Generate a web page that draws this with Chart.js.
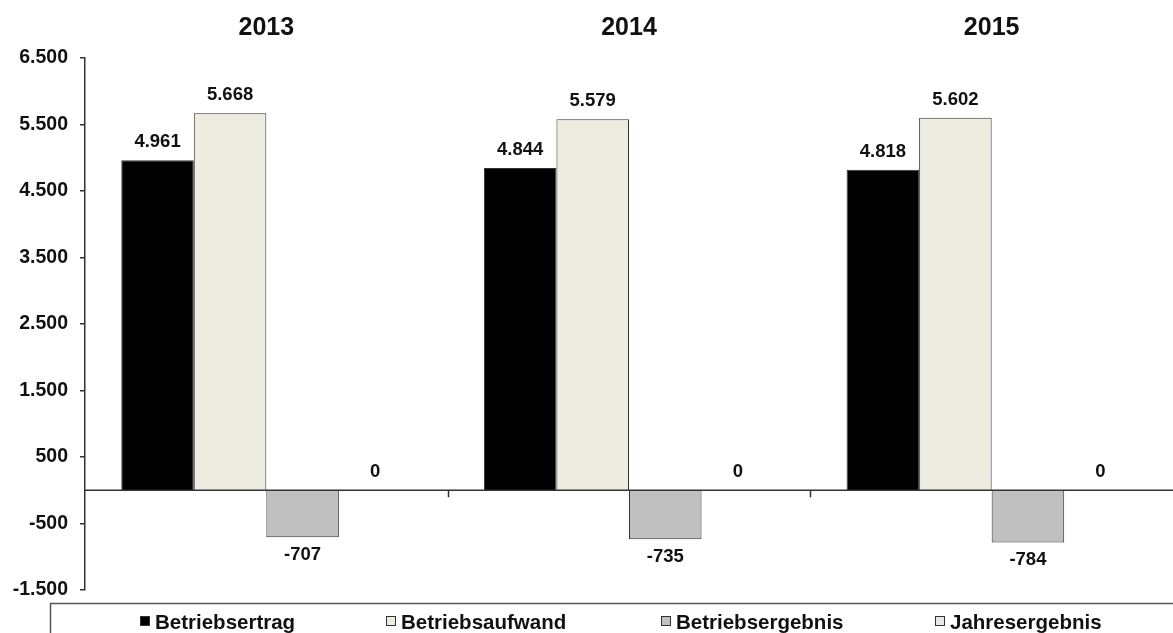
<!DOCTYPE html>
<html lang="de">
<head>
<meta charset="utf-8">
<title>Betriebsergebnis 2013–2015</title>
<script src="https://cdn.jsdelivr.net/npm/chart.js@4.4.1/dist/chart.umd.min.js"></script>
<style>
    html, body { margin: 0; padding: 0; background: #ffffff; }
    #wrap { width: 1173px; height: 633px; position: relative; }
</style>
</head>
<body>
<div id="wrap"><canvas id="chart" width="1173" height="633"></canvas></div>
<script>
// Données (en milliers)
const years = ['2013', '2014', '2015'];
const seriesLabels = ['Betriebsertrag', 'Betriebsaufwand', 'Betriebsergebnis', 'Jahresergebnis'];
const betriebsertrag = [4961, 4844, 4818];
const betriebsaufwand = [5668, 5579, 5602];
const betriebsergebnis = [-707, -735, -784];
const jahresergebnis = [0, 0, 0];
const yTicks = [-1500, -500, 500, 1500, 2500, 3500, 4500, 5500, 6500];

const seriesColors = ['#000000', '#EEEBE0', '#C0C0C0', '#E8E8E8'];
const FONT = '"Liberation Sans", Arial, sans-serif';
const INK = '#111111';

/**
 * Format allemand : 4961 -> "4.961"
 */
function formatNumber(v) {
    const sign = v < 0 ? '-' : '';
    const s = String(Math.abs(Math.round(v)));
    return sign + s.replace(/\B(?=(\d{3})+(?!\d))/g, '.');
}

/**
 * Plugin : ligne zéro, titres des années, étiquettes de valeurs et légende encadrée
 */
const decorations = {
    id: 'decorations',
    afterDatasetsDraw(chart) {
        const { ctx, chartArea } = chart;
        const x = chart.scales.x;
        const y = chart.scales.y;
        const y0 = y.getPixelForValue(0);
        const catWidth = (chartArea.right - chartArea.left) / years.length;

        ctx.save();

        // Ligne zéro avec graduations entre catégories
        ctx.strokeStyle = '#333333';
        ctx.lineWidth = 1.5;
        ctx.beginPath();
        ctx.moveTo(chartArea.left, y0);
        ctx.lineTo(chartArea.right, y0);
        for (let i = 1; i < years.length; i++) {
            const bx = Math.round(chartArea.left + catWidth * i) + 0.5;
            ctx.moveTo(bx, y0);
            ctx.lineTo(bx, y0 + 7);
        }
        ctx.stroke();

        // Titres des années
        ctx.fillStyle = INK;
        ctx.textAlign = 'center';
        ctx.textBaseline = 'middle';
        ctx.font = 'bold 25px ' + FONT;
        years.forEach((yr, i) => {
            ctx.fillText(yr, x.getPixelForValue(i), 28);
        });

        // Étiquettes de valeurs
        ctx.font = 'bold 18.5px ' + FONT;
        chart.data.datasets.forEach((ds, di) => {
            const meta = chart.getDatasetMeta(di);
            meta.data.forEach((bar, i) => {
                const v = ds.data[i];
                const ly = v < 0 ? bar.y + 18 : bar.y - 18;
                ctx.fillText(formatNumber(v), bar.x, ly);
            });
        });

        // Légende encadrée en bas
        const legendX = [140, 386, 661, 935];
        const legendY = 621;
        ctx.strokeStyle = '#555555';
        ctx.lineWidth = 1.5;
        ctx.strokeRect(50.5, 603.5, 1200, 60);
        ctx.textAlign = 'left';
        ctx.font = 'bold 20.5px ' + FONT;
        seriesLabels.forEach((label, i) => {
            const lx = legendX[i];
            ctx.fillStyle = seriesColors[i];
            ctx.fillRect(lx, legendY - 5, 10, 10);
            ctx.strokeStyle = '#333333';
            ctx.lineWidth = 1;
            ctx.strokeRect(lx + 0.5, legendY - 4.5, 9, 9);
            ctx.fillStyle = INK;
            ctx.fillText(label, lx + 15, legendY + 2);
        });

        ctx.restore();
    }
};

const seriesData = [betriebsertrag, betriebsaufwand, betriebsergebnis, jahresergebnis];

new Chart(document.getElementById('chart'), {
    type: 'bar',
    data: {
        labels: years,
        datasets: seriesLabels.map((label, i) => ({
            label: label,
            data: seriesData[i],
            backgroundColor: seriesColors[i],
            borderColor: '#333333',
            borderWidth: 1,
            categoryPercentage: 0.8,
            barPercentage: 1.0
        }))
    },
    options: {
        responsive: false,
        animation: false,
        layout: { padding: { top: 58, right: 0, bottom: 43, left: 0 } },
        plugins: {
            legend: { display: false },
            tooltip: { enabled: false }
        },
        scales: {
            x: { display: false },
            y: {
                min: -1500,
                max: 6500,
                afterBuildTicks: (scale) => {
                    scale.ticks = yTicks.map(v => ({ value: v }));
                },
                afterFit: (scale) => { scale.width = 85; },
                border: { display: true, color: '#333333', width: 1.5 },
                grid: {
                    drawOnChartArea: false,
                    drawTicks: true,
                    tickLength: 5,
                    color: '#333333',
                    lineWidth: 1.5
                },
                ticks: {
                    padding: 12,
                    color: INK,
                    font: { family: FONT, size: 19.5, weight: 'bold' },
                    callback: (v) => formatNumber(v)
                }
            }
        }
    },
    plugins: [decorations]
});
</script>
</body>
</html>
